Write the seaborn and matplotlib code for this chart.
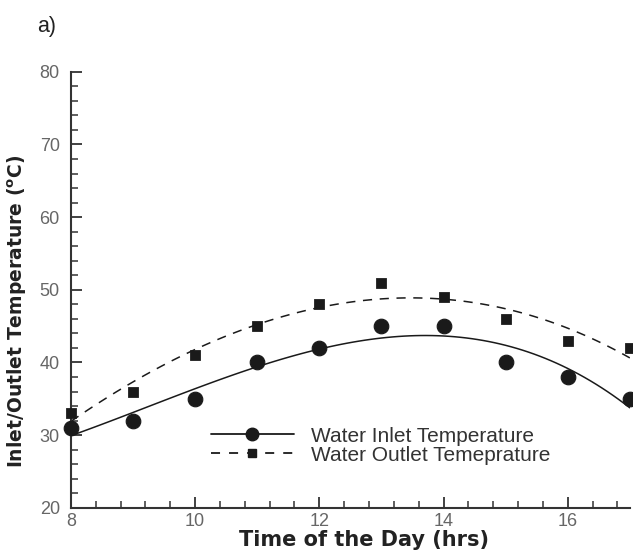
import numpy as np
import pandas as pd
import matplotlib
matplotlib.use("Agg")
import matplotlib.pyplot as plt
from matplotlib.lines import Line2D
from matplotlib.ticker import MultipleLocator
import seaborn as sns

# readings from the chart
hours = [8, 9, 10, 11, 12, 13, 14, 15, 16, 17]
inlet_temp = [31, 32, 35, 40, 42, 45, 45, 40, 38, 35]
outlet_temp = [33, 36, 41, 45, 48, 51, 49, 46, 43, 42]

df = pd.DataFrame({"hour": hours, "inlet": inlet_temp, "outlet": outlet_temp})

sns.set_style("ticks")
plt.rcParams['font.family'] = ['Liberation Sans', 'DejaVu Sans']

fig = plt.figure(figsize=(6.33, 5.52), dpi=100)
ax = fig.add_axes([0.112, 0.080, 0.883, 0.790])

# trend lines (cubic fits) and points
sns.regplot(data=df, x="hour", y="inlet", order=3, ci=None, scatter=False,
            truncate=True, ax=ax, line_kws=dict(color="#1a1a1a", lw=1.1, ls="-"))
sns.regplot(data=df, x="hour", y="outlet", order=3, ci=None, scatter=False,
            truncate=True, ax=ax, line_kws=dict(color="#1a1a1a", lw=1.1, ls=(0, (6, 5))))
sns.scatterplot(data=df, x="hour", y="inlet", marker="o", s=110, color="#1a1a1a",
                edgecolor="#1a1a1a", ax=ax, zorder=3, clip_on=False)
sns.scatterplot(data=df, x="hour", y="outlet", marker="s", s=52, color="#1a1a1a",
                edgecolor="#1a1a1a", ax=ax, zorder=3, clip_on=False)

ax.set_xlim(8, 17)
ax.set_ylim(20, 80)
ax.xaxis.set_major_locator(MultipleLocator(2))
ax.xaxis.set_minor_locator(MultipleLocator(0.4))
ax.yaxis.set_major_locator(MultipleLocator(10))
ax.yaxis.set_minor_locator(MultipleLocator(2))
ax.tick_params(which="major", direction="in", length=8, width=1.3, color="#333333",
               labelsize=13, labelcolor="#666666")
ax.tick_params(axis="y", which="major", pad=8)
ax.tick_params(axis="x", which="major", pad=4)
ax.tick_params(which="minor", direction="in", length=5, width=1.1, color="#333333")
for s in ["left", "bottom"]:
    ax.spines[s].set_linewidth(1.5)
    ax.spines[s].set_color("#333333")
sns.despine(ax=ax)

ax.set_xlabel("Time of the Day (hrs)", fontsize=15, fontweight="bold", color="#222222",
              family="DejaVu Sans")
ax.xaxis.set_label_coords(0.525, -0.05)
ax.set_ylabel(r"Inlet/Outlet Temperature ($^{\mathbf{o}}$C)", fontsize=13.5,
              fontweight="bold", color="#222222", family="DejaVu Sans")
ax.yaxis.set_label_coords(-0.075, 0.45)

handles = [
    Line2D([], [], color="#1a1a1a", lw=1.3, ls="-", marker="o", markersize=9),
    Line2D([], [], color="#1a1a1a", lw=1.3, ls=(0, (5, 5)), marker="s", markersize=6),
]
ax.legend(handles, ["Water Inlet Temperature", "Water Outlet Temeprature"],
          loc="upper left", bbox_to_anchor=(0.235, 0.205), frameon=False,
          fontsize=15, handlelength=4.0, handletextpad=0.8, labelspacing=0.0,
          labelcolor="#333333", borderaxespad=0)

fig.text(0.058, 0.942, "a)", fontsize=15.5, color="#222222")

fig.savefig("out.png", dpi=100)
